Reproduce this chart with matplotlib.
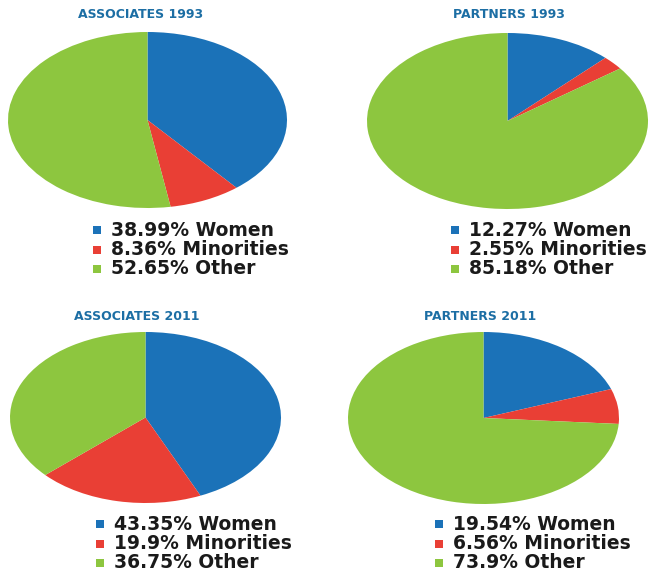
import matplotlib
matplotlib.use('Agg')
import matplotlib.pyplot as plt

# data
titles = ['ASSOCIATES 1993', 'PARTNERS 1993', 'ASSOCIATES 2011', 'PARTNERS 2011']
groups = ['Women', 'Minorities', 'Other']
assoc_1993 = [38.99, 8.36, 52.65]
partners_1993 = [12.27, 2.55, 85.18]
assoc_2011 = [43.35, 19.9, 36.75]
partners_2011 = [19.54, 6.56, 73.9]
colors = ['#1b72b8', '#e93f35', '#8dc63f']
title_color = '#1c6ea4'

W, H = 649, 573
fig = plt.figure(figsize=(W / 100, H / 100), dpi=100)

# pixel boxes (left, top, right, bottom) for each pie
pie_boxes = [(8, 32, 287, 208), (367, 33, 648, 209),
             (10, 332, 281, 503), (348, 332, 619, 504)]
title_pos = [(141, 14), (509, 14), (137, 316), (480, 316)]
legend_pos = [(97, 230), (455, 230), (100, 524), (439, 524)]
row_gap = 19.5

values = [assoc_1993, partners_1993, assoc_2011, partners_2011]

for box, vals in zip(pie_boxes, values):
    l, t, r, b = box
    ax = fig.add_axes([l / W, 1 - b / H, (r - l) / W, (b - t) / H])
    ax.pie(vals, colors=colors, startangle=90, counterclock=False,
           wedgeprops={'linewidth': 0})
    ax.set_aspect('auto')
    ax.set_xlim(-1, 1)
    ax.set_ylim(-1, 1)
    ax.axis('off')

# overlay in pixel coordinates for titles and legends
ov = fig.add_axes([0, 0, 1, 1])
ov.set_xlim(0, W)
ov.set_ylim(H, 0)
ov.axis('off')

for title, (tx, ty) in zip(titles, title_pos):
    ov.text(tx, ty, title, ha='center', va='center', fontsize=9,
            fontweight='bold', color=title_color, family='DejaVu Sans')

for vals, (mx, my) in zip(values, legend_pos):
    for i, (v, g) in enumerate(zip(vals, groups)):
        y = my + i * row_gap
        ov.scatter([mx], [y], marker='s', s=26, color=colors[i], linewidths=0)
        ov.text(mx + 14, y, f'{v:g}% {g}', ha='left', va='center',
                fontsize=13.5, fontweight='bold', color='#1a1a1a',
                family='DejaVu Sans')

fig.savefig('out.png', dpi=100)
